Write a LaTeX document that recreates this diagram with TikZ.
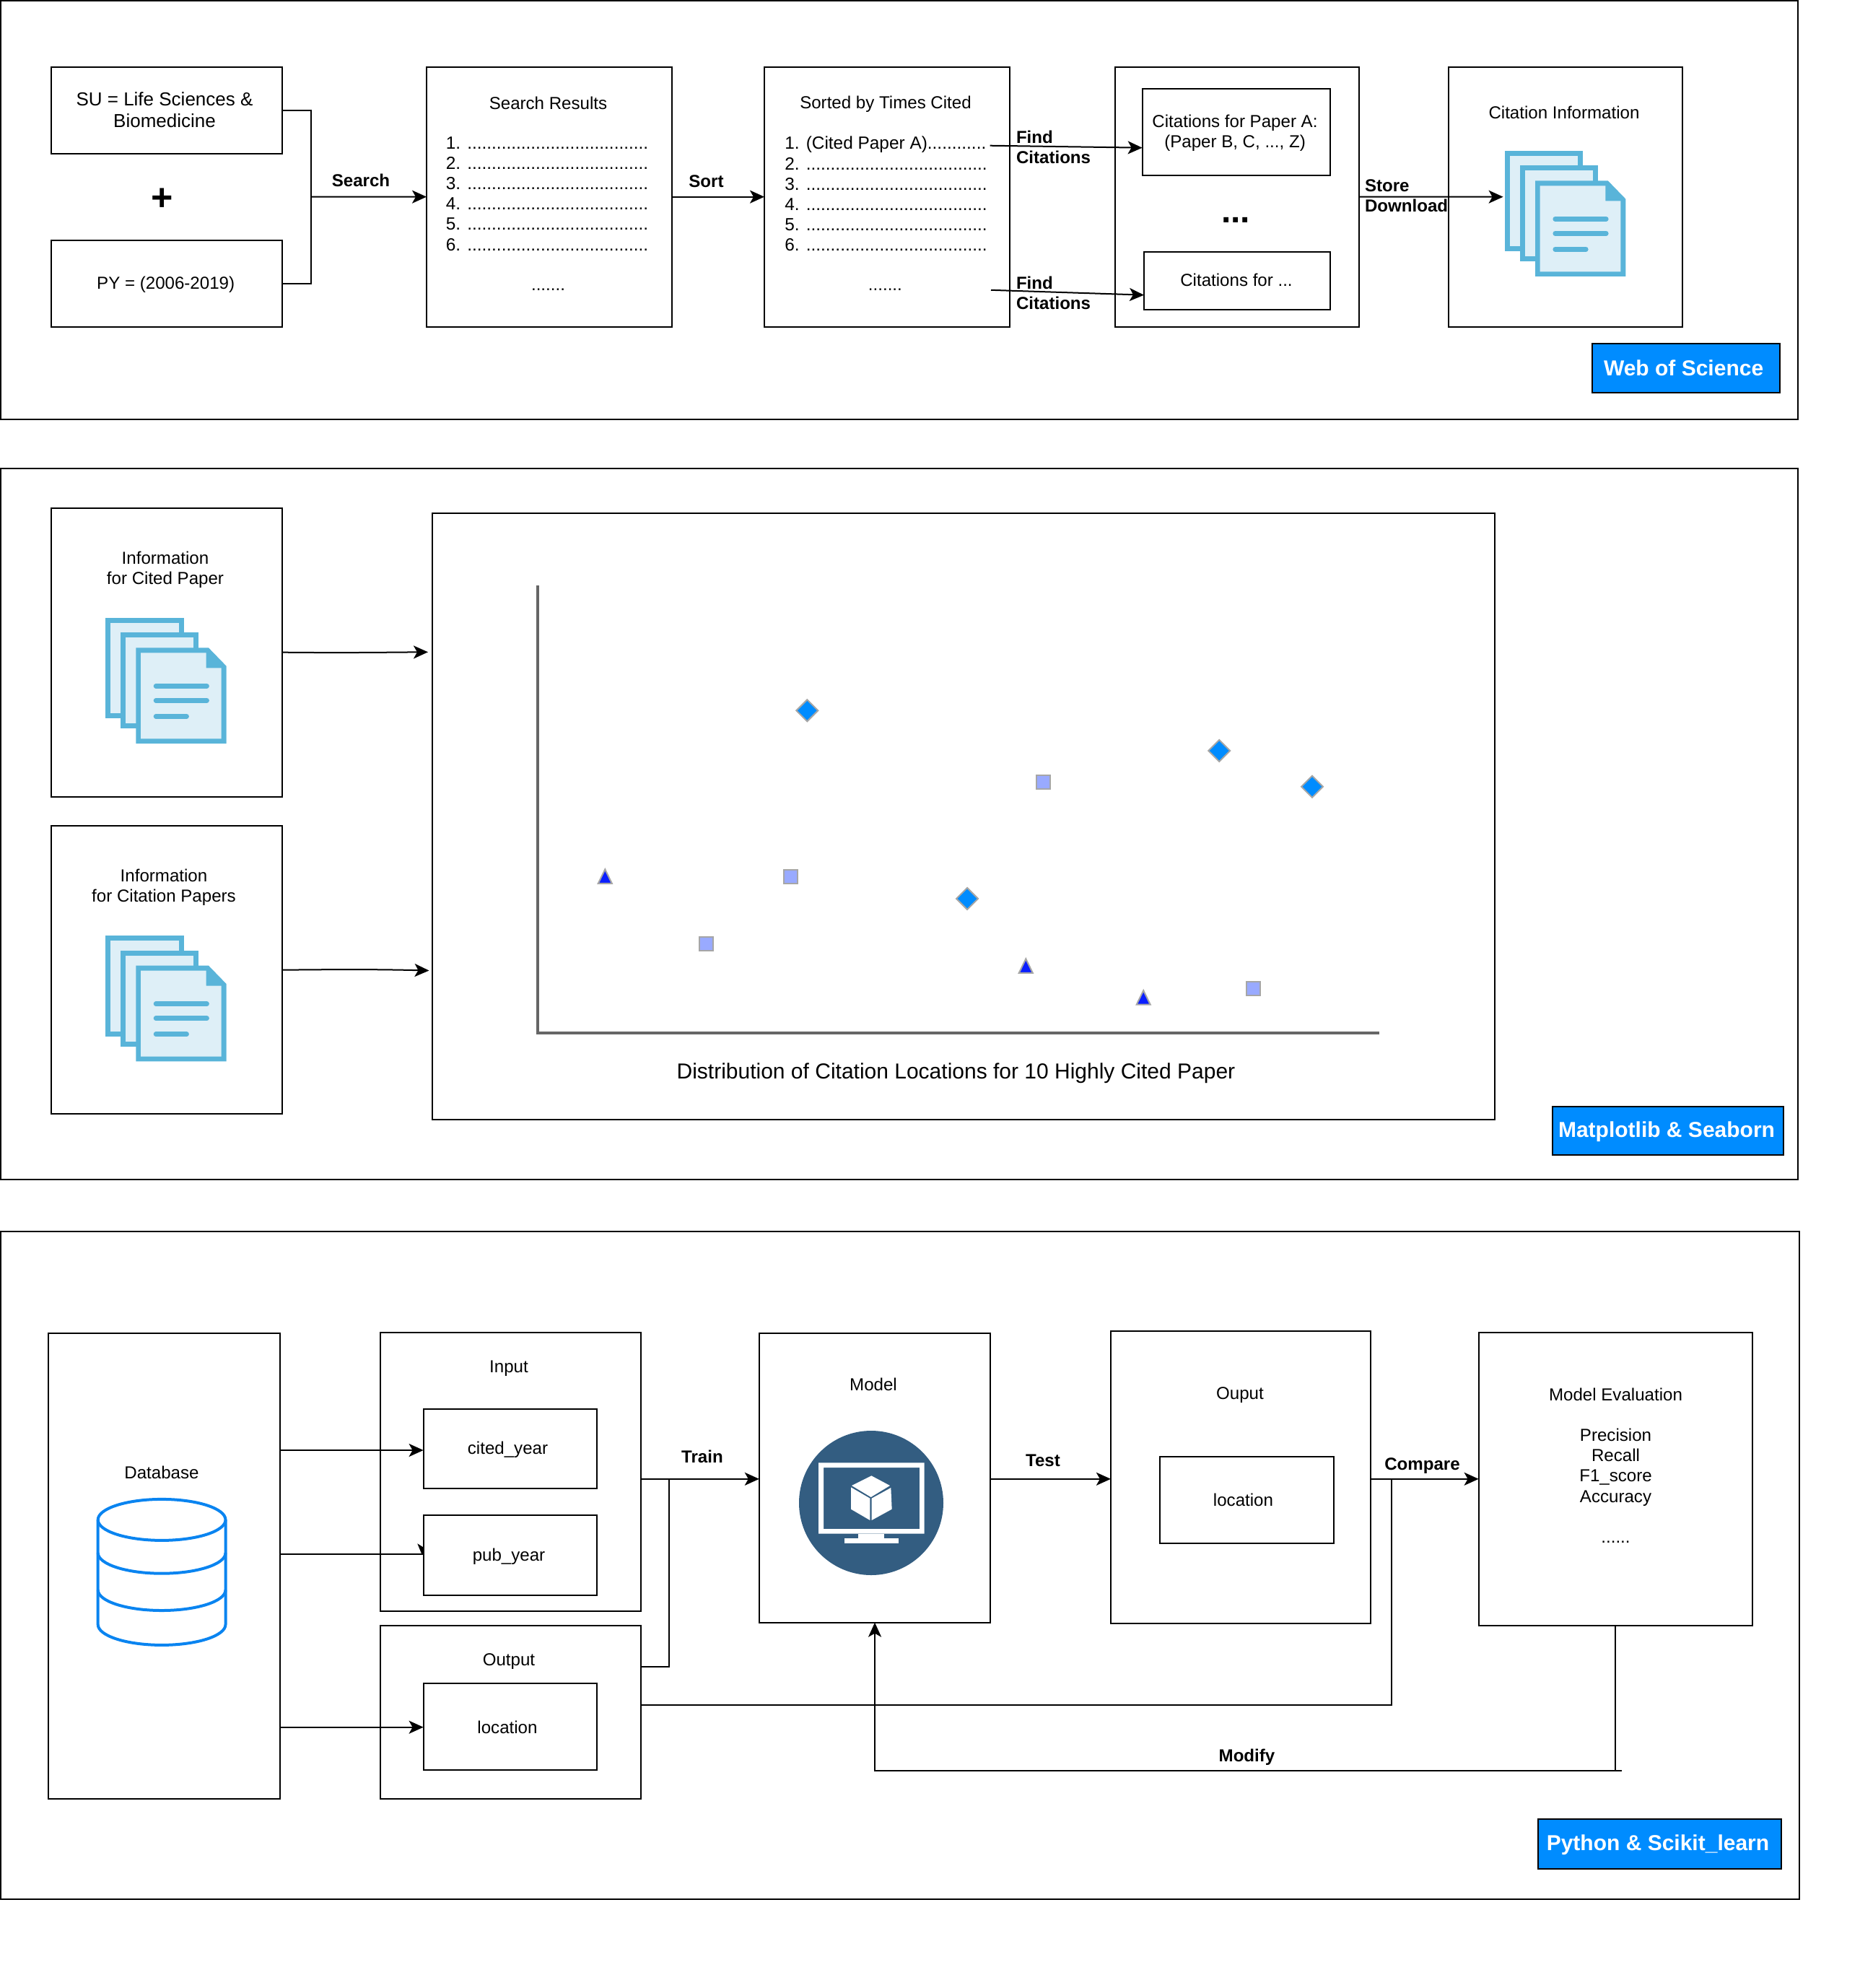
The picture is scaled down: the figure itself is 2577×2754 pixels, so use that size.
\documentclass[tikz,border=0pt]{standalone}
\usepackage{fontspec}
\setmainfont{Liberation Sans}
\usetikzlibrary{arrows.meta,calc,shapes.geometric}
\definecolor{badge}{HTML}{008CFF}
\definecolor{docedge}{HTML}{59B4D9}
\definecolor{docfill}{HTML}{DEEFF7}
\definecolor{dbblue}{HTML}{0A84F0}
\definecolor{modelblue}{HTML}{335D81}
\definecolor{marksq}{HTML}{99AAFF}
\definecolor{marktri}{HTML}{0A1EFF}
\definecolor{markedge}{HTML}{A6A6A6}
\newcommand{\fbody}{\fontsize{12.05}{14.1}\selectfont}
\newcommand{\flist}{\fontsize{12.2}{14.05}\selectfont}
\newcommand{\fbadge}{\fontsize{15}{17}\selectfont}
\tikzset{
  bx/.style={draw=black,line width=1pt,inner sep=0pt,outer sep=0pt,fill=none},
  badgebox/.style={draw=black,line width=1pt,fill=badge,inner sep=0pt,outer sep=0pt},
  badgetext/.style={inner sep=0pt,text=white,font=\bfseries\fbadge},
  txt/.style={inner sep=0pt,outer sep=0pt,align=center,font=\fbody},
  listtxt/.style={inner sep=0pt,outer sep=0pt,align=left,font=\flist},
  lbl/.style={inner sep=0pt,outer sep=0pt,align=left,font=\bfseries\fbody},
  conn/.style={draw=black,line width=1pt},
  arr/.style={draw=black,line width=1pt,-{Stealth[length=10pt,width=9pt,inset=2.5pt]}},
  diam/.pic={\draw[fill=badge,draw=markedge,line width=1pt] (-15,0)--(0,-15)--(15,0)--(0,15)--cycle;},
  squ/.pic={\draw[fill=marksq,draw=markedge,line width=1pt] (-9.5,-9.5) rectangle (9.5,9.5);},
  tri/.pic={\draw[fill=marktri,draw=markedge,line width=1pt] (-9.5,10)--(0,-9.5)--(9.5,10)--cycle;},
  docicon/.pic={
    \fill[docedge] (0,0) rectangle (108.3,139.7);
    \fill[docfill] (7,7) rectangle (101.3,132.7);
    \fill[docedge] (21,20.7) rectangle (129,153.7);
    \fill[docfill] (28,27.7) rectangle (122,146.7);
    \fill[docedge] (42,41.7)--(142.7,41.7)--(167.3,67)--(167.3,174.3)--(42,174.3)--cycle;
    \fill[docfill] (48.7,48.7)--(139.3,48.7)--(139.3,69.7)--(160.3,69.7)--(160.3,167.7)--(48.7,167.7)--cycle;
    \draw[docedge,line width=3.3pt,line cap=round] (69.7,94.7)--(140.3,94.7) (69.7,114.7)--(140.3,114.7) (69.7,136.7)--(112.3,136.7);
  }
}
\newcommand{\mybox}[6][bx]{\node[#1,minimum width={(#5-#3)*0.5pt},minimum height={(#6-#4)*0.5pt}] (#2) at ({(#3+#5)/2},{(#4+#6)/2}) {};}
\newcommand{\dotsrow}{.....................................}
\begin{document}
\begin{tikzpicture}[x=0.5pt,y=-0.5pt]
\useasboundingbox (0,0) rectangle (2577,2754);
% panels
\mybox{panelA}{0.5}{1}{2491}{581}
\mybox{panelB}{0.5}{648.6}{2491}{1633.6}
\mybox{panelC}{0.5}{1705.6}{2492.8}{2630.5}
% ---- top panel
\mybox{su}{70.5}{92.6}{390.5}{212.8}
\mybox{py}{70.5}{333}{390.5}{452.7}
\mybox{results}{591}{92.6}{931}{452.7}
\mybox{sorted}{1059}{92.6}{1399}{452.7}
\mybox{cits}{1545}{92.6}{1883}{452.7}
\mybox{citA}{1582.6}{122.5}{1843}{243}
\mybox{citB}{1585}{348.6}{1843}{429.4}
\mybox{info}{2007}{92.6}{2331}{452.7}
\node[txt,font=\fontsize{13}{15.1}\selectfont] (sutext) at (228,152) {SU = Life Sciences \&\\Biomedicine};
\node[txt] (pytext) at (229.7,394) {PY = (2006-2019)};
\node[txt,font=\bfseries\fontsize{26}{26}\selectfont] (plus) at (224.7,276.5) {+};
\node[txt] (rtitle) at (759.5,142.4) {Search Results};
\node[listtxt] (rlist) at (758,268.5) {1. \dotsrow\\2. \dotsrow\\3. \dotsrow\\4. \dotsrow\\5. \dotsrow\\6. \dotsrow};
\node[txt,anchor=base] (rmore) at (759.5,402.6) {.......};
\node[txt] (stitle) at (1227,144) {Sorted by Times Cited};
\node[listtxt] (slist) at (1227.5,268.5) {1. (Cited Paper A)............\\2. \dotsrow\\3. \dotsrow\\4. \dotsrow\\5. \dotsrow\\6. \dotsrow};
\node[txt,anchor=base] (smore) at (1226.4,402.6) {.......};
\node[txt] (atext) at (1711,184.5) {Citations for Paper A:\\(Paper B, C, ..., Z)};
\node[txt] (btext) at (1713,388) {Citations for ...};
\node[txt,anchor=base,font=\bfseries\fontsize{24}{24}\selectfont] (etc) at (1712,308) {...};
\node[txt] (itext) at (2167,156) {Citation Information};
\pic at (2085,208.6) {docicon};
\mybox[badgebox]{wos}{2205.5}{475.7}{2466}{543.8}
\node[badgetext] (wost) at (2332.6,509.8) {Web of Science};
\coordinate (join) at (431,272.7);
\coordinate (f1s) at (1371.7,201.7);
\coordinate (f2s) at (1373,401.8);
\coordinate (stend) at (2082.6,272.7);
\draw[conn] (su.east) -| (join);
\draw[conn] (py.east) -| (join);
\draw[arr] (join) -- (results.west);
\draw[arr] (results.east) -- (sorted.west);
\draw[arr] (f1s) -- (citA.west |- 0,204.7);
\draw[arr] (f2s) -- (citB.west |- 0,408.7);
\draw[arr] (cits.east) -- (stend);
\node[lbl] (lsearch) at (500,249.5) {Search};
\node[lbl] (lsort) at (978.5,251.4) {Sort};
\node[lbl,anchor=west] (lf1) at (1408,203.7) {Find\\Citations};
\node[lbl,anchor=west] (lf2) at (1408,405.5) {Find\\Citations};
\node[lbl,anchor=west] (lstore) at (1891,271.2) {Store\\Download};
% ---- middle panel
\mybox{cited}{70.5}{703.7}{391}{1103.6}
\mybox{citing}{70.5}{1144}{391}{1543.4}
\mybox{plot}{598.7}{711}{2071}{1550.7}
\node[txt] (citedt) at (229,789.5) {Information\\for Cited Paper};
\node[txt] (citingt) at (227,1229.5) {Information\\for Citation Papers};
\pic at (146.3,855.7) {docicon};
\pic at (146.3,1296) {docicon};
\coordinate (p1) at (593,903.3);
\coordinate (p2) at (594.5,1344.5);
\draw[arr] (cited.east) .. controls (480,904.6) and (540,903.6) .. (p1);
\draw[arr] (citing.east) .. controls (480,1342.8) and (520,1342.8) .. (p2);
\coordinate (axt) at (745.4,811);
\coordinate (axo) at (745.4,1430.6);
\coordinate (axr) at (1910.8,1430.6);
\draw[draw=black!60,line width=2pt] (axt) -- (axo) -- (axr);
\pic at (1118.3,984.3) {diam};
\pic at (1689.3,1040) {diam};
\pic at (1818,1089.7) {diam};
\pic at (1340,1244.9) {diam};
\pic at (978.3,1307) {squ};
\pic at (1095,1214) {squ};
\pic at (1445,1083) {squ};
\pic at (1736.5,1369) {squ};
\pic at (838.3,1213.8) {tri};
\pic at (1421.3,1337.8) {tri};
\pic at (1584.2,1381.6) {tri};
\node[txt,font=\fontsize{15}{17}\selectfont] (dist) at (1324.5,1487) {Distribution of Citation Locations for 10 Highly Cited Paper};
\mybox[badgebox]{mpl}{2151}{1532.8}{2471}{1600.4}
\node[badgetext] (mplt) at (2309,1567.5) {Matplotlib \& Seaborn};
% ---- bottom panel
\mybox{db}{67}{1847.3}{387.5}{2492}
\mybox{input}{526.8}{1845.5}{887.5}{2232}
\mybox{cy}{586.6}{1951.5}{826.8}{2062}
\mybox{pu}{586.6}{2099.4}{826.8}{2210}
\mybox{output}{526.8}{2251.8}{887.5}{2492}
\mybox{loc}{586.6}{2331.7}{826.8}{2452}
\mybox{model}{1051.8}{1847.3}{1372.3}{2247.7}
\mybox{ouput}{1538.9}{1844.4}{1899.2}{2249}
\mybox{locb}{1606.5}{2017.8}{1847.5}{2137.7}
\mybox{eval}{2048.6}{1845.6}{2427.8}{2252}
\node[txt] (dbt) at (224,2040) {Database};
\node[txt] (inputt) at (705,1896) {Input};
\node[txt] (cyt) at (703.5,2008) {cited\_year};
\node[txt] (put) at (705,2156) {pub\_year};
\node[txt] (outt) at (705,2302) {Output};
\node[txt] (loct) at (703,2392.5) {location};
\node[txt] (modelt) at (1210,1918) {Model};
\node[txt] (ouputt) at (1718,1933) {Ouput};
\node[txt] (locbt) at (1722.5,2078) {location};
\node[txt] (evalt) at (2238.5,2030) {Model Evaluation\\[14.1pt]Precision\\Recall\\F1\_score\\Accuracy\\[14.1pt]......};
% database cylinder
\begin{scope}[draw=dbblue,line width=2pt]
  \draw (135.7,2105.4) arc[x radius=88.4,y radius=28.5,start angle=180,end angle=-180];
  \draw (135.7,2105.4) -- (135.7,2250.4) arc[x radius=88.4,y radius=28.5,start angle=180,end angle=0] -- (312.5,2105.4);
  \draw (135.7,2151.2) arc[x radius=88.4,y radius=28.5,start angle=180,end angle=0];
  \draw (135.7,2202.5) arc[x radius=88.4,y radius=28.5,start angle=180,end angle=0];
\end{scope}
% model icon
\fill[modelblue] (1207,2082) circle[radius=100];
\begin{scope}[shift={(1060,1960)},x=0.16667pt,y=-0.16667pt]
  \fill[white,even odd rule] (222,199) rectangle (662,494) (243,219) rectangle (642,474);
  \fill[white] (387,494) rectangle (495,513);
  \fill[white] (330,513) rectangle (554,533);
  \fill[white] (442,253)--(519,294)--(440,342)--(360,294)--cycle;
  \fill[white] (357,301)--(436,347)--(436,438)--(357,392)--cycle;
  \fill[white] (443,347)--(523,303)--(527,392)--(443,438)--cycle;
\end{scope}
\coordinate (tr) at (926.8,2048.8);
\coordinate (cmpj) at (1927.8,2048.8);
\coordinate (cmpb) at (1927.8,2361.6);
\coordinate (m1) at (2246.8,2452.8);
\draw[arr] (db.east |- 0,2009) -- (cy.west |- 0,2009);
\draw[conn] (db.east |- 0,2153) -- (pu.west |- 0,2153);
\fill[black] (pu.west |- 0,2153) ++(-8.3,-14.7) -- ++(8.3,5.2) -- ++(0,9.5) -- ++(-2.3,0) -- cycle;
\draw[arr] (db.east |- 0,2392.7) -- (loc.west |- 0,2392.7);
\draw[arr] (input.east |- tr) -- (model.west |- tr);
\draw[conn] (output.east |- 0,2308.7) -| (tr);
\draw[arr] (model.east |- tr) -- (ouput.west |- tr);
\draw[arr] (ouput.east |- tr) -- (eval.west |- tr);
\draw[conn] (output.east |- cmpb) -- (cmpb) -- (cmpj);
\draw[conn] (eval.south) -- (eval.south |- m1);
\draw[arr] (m1) -| (model.south);
\node[lbl] (ltrain) at (973,2017.5) {Train};
\node[lbl] (ltest) at (1445,2023) {Test};
\node[lbl] (lcomp) at (1970.5,2031) {Compare};
\node[lbl] (lmod) at (1727.5,2434.5) {Modify};
\mybox[badgebox]{py2}{2131}{2520.4}{2467.6}{2589}
\node[badgetext] (pyt) at (2297,2556) {Python \& Scikit\_learn};
\end{tikzpicture}
\end{document}
